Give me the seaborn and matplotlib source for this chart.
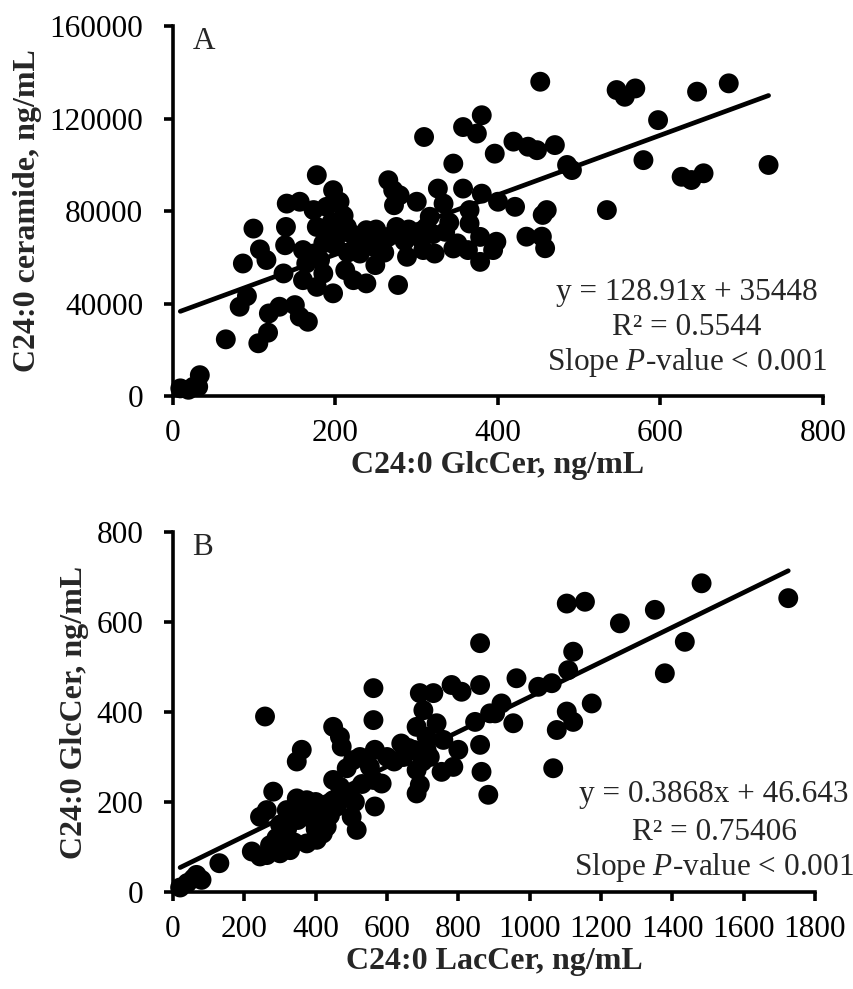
import matplotlib
matplotlib.use("Agg")
import matplotlib.pyplot as plt
import seaborn as sns
import pandas as pd
import numpy as np

# ---------------- Panel A data: C24:0 GlcCer (x) vs C24:0 ceramide (y) ----------------
a_glccer = [9, 19, 25, 31, 33, 65, 105, 117, 82, 91, 118, 131, 150, 156, 166,
            86, 99, 107, 115, 136, 139, 138, 140, 156, 173, 177, 197, 205, 189, 177,
            189, 160, 164, 181, 160, 177, 197, 185, 173, 205, 214, 212, 222, 238, 230,
            226, 238, 249, 247, 265, 265, 271, 279, 272, 277, 275, 288, 296, 300, 308,
            312, 309, 322, 316, 326, 333, 345, 345, 357, 374, 380, 357, 380, 365, 365,
            378, 363, 378, 394, 396, 400, 452, 419, 437, 448, 470, 491, 485, 546, 556,
            569, 597, 645, 684, 733, 579, 626, 638, 653, 534, 421, 460, 455, 435, 454,
            458, 398,
            195, 200, 215, 220, 235, 245, 255, 260, 285, 290, 305, 320, 335, 340, 350,
            185, 250, 210]
a_ceramide = [3300, 2700, 4000, 4000, 9000, 24500, 22800, 27400, 38600, 43200, 35700, 38600, 39300, 34300, 32100,
              57300, 72400, 63400, 58800, 53000, 73100, 65200, 83200, 84000, 80400, 95500, 89000, 84000, 81800, 73100,
              68800, 63100, 57300, 58800, 50100, 47200, 44400, 53000, 61600, 70300, 73100, 54400, 50100, 48700, 61600,
              67400, 71700, 56600, 64500, 68800, 93300, 89000, 86800, 82500, 48000, 73100, 60200, 70300, 84000, 63100,
              73100, 112000, 61600, 77500, 89700, 83200, 100500, 63800, 116300, 113500, 121400, 89700, 87500, 80400, 74600,
              68800, 63100, 58000, 63100, 104800, 84000, 135900, 110000, 107800, 106300, 108500, 97700, 99900, 132300, 129400,
              133000, 119300, 131600, 135200, 99900, 102000, 94800, 93400, 96300, 80400, 81800, 80400, 78300, 68900, 68900,
              63900, 66700,
              75000, 65000, 62000, 70000, 66000, 70000, 68000, 62000, 67000, 72000, 68000, 70000, 71000, 75000, 66000,
              66000, 72000, 78000]
a_slope, a_intercept = 128.91, 35448
a_xticks = [0, 200, 400, 600, 800]
a_yticks = [0, 40000, 80000, 120000, 160000]
a_text = ["y = 128.91x + 35448", "R² = 0.5544", "Slope $P$-value < 0.001"]

# ---------------- Panel B data: C24:0 LacCer (x) vs C24:0 GlcCer (y) ----------------
b_laccer = [20, 40, 57, 66, 80, 130, 221, 244, 263, 300, 328, 272, 244, 263, 281,
            258, 347, 361, 319, 347, 375, 337, 375, 403, 393, 431, 421, 449, 449, 468,
            449, 468, 473, 487, 496, 501, 515, 505, 524, 562, 562, 566, 552, 562, 585,
            566, 646, 674, 683, 692, 730, 702, 739, 711, 683, 692, 683, 711, 758, 753,
            786, 800, 781, 809, 861, 861, 847, 861, 865, 884, 889, 903, 921, 954, 963,
            1024, 1062, 1104, 1155, 1122, 1108, 1104, 1122, 1076, 1174, 1066, 1253, 1351, 1435, 1379,
            1482, 1725,
            300, 320, 350, 380, 400, 420, 440, 460, 480, 510, 530, 290, 340,
            400, 620, 600, 640, 700, 720, 660]
b_glccer = [10, 20, 30, 38, 27, 64, 90, 79, 82, 86, 93, 104, 167, 182, 223,
            390, 290, 316, 182, 208, 204, 175, 108, 116, 160, 145, 182, 204, 249, 234,
            367, 345, 323, 275, 219, 167, 138, 293, 300, 453, 382, 316, 278, 249, 241,
            190, 300, 316, 367, 442, 442, 404, 375, 345, 271, 238, 219, 316, 338, 267,
            278, 316, 460, 445, 553, 460, 378, 327, 267, 216, 397, 397, 419, 375, 475,
            456, 464, 641, 645, 534, 493, 401, 378, 360, 419, 275, 597, 627, 556, 486,
            686, 653,
            150, 140, 160, 190, 200, 130, 170, 190, 210, 200, 240, 120, 110,
            140, 290, 300, 330, 290, 300, 320]
b_slope, b_intercept = 0.3868, 46.643
b_xticks = [0, 200, 400, 600, 800, 1000, 1200, 1400, 1600, 1800]
b_yticks = [0, 200, 400, 600, 800]
b_text = ["y = 0.3868x + 46.643", "R² = 0.75406", "Slope $P$-value < 0.001"]

# ---------------- styling ----------------
sns.set_theme(style="ticks")
plt.rcParams["font.family"] = ["Liberation Serif", "DejaVu Serif"]
plt.rcParams["mathtext.fontset"] = "custom"
plt.rcParams["mathtext.rm"] = "Liberation Serif"
plt.rcParams["mathtext.it"] = "Liberation Serif:italic"

FS_TICK = 22.5
FS_LABEL = 23
FS_TEXT = 22.5
W, H = 854, 989
fig = plt.figure(figsize=(W / 100, H / 100), dpi=100)
axA = fig.add_axes([173 / W, 1 - 396 / H, 650 / W, 370 / H])
axB = fig.add_axes([173 / W, 1 - 892 / H, 642 / W, 360 / H])


def draw(ax, x, y, slope, intercept, xticks, yticks, xlabel, ylabel, letter, texts, tx, tys):
    df = pd.DataFrame({"x": x, "y": y})
    sns.scatterplot(data=df, x="x", y="y", ax=ax, color="black", s=205,
                    edgecolor="none", linewidth=0, clip_on=False, zorder=3)
    xs = np.array([min(x), max(x)], dtype=float)
    line = pd.DataFrame({"x": xs, "y": slope * xs + intercept})
    sns.lineplot(data=line, x="x", y="y", ax=ax, color="black", linewidth=3.4,
                 zorder=4, solid_capstyle="round")
    ax.set_xlim(xticks[0], xticks[-1])
    ax.set_ylim(yticks[0], yticks[-1])
    ax.set_xticks(xticks)
    ax.set_yticks(yticks)
    ax.set_xticklabels([str(t) for t in xticks])
    ax.set_yticklabels([str(t) for t in yticks])
    for side in ["top", "right"]:
        ax.spines[side].set_visible(False)
    for side in ["left", "bottom"]:
        ax.spines[side].set_linewidth(2.6)
        ax.spines[side].set_color("black")
        ax.spines[side].set_zorder(5)
    ax.tick_params(axis="both", direction="out", length=6.5, width=2.6,
                   colors="black", labelsize=FS_TICK)
    ax.tick_params(axis="x", pad=10)
    ax.tick_params(axis="y", pad=15)
    ax.set_xlabel(xlabel, fontsize=FS_LABEL, fontweight="bold", labelpad=2)
    ax.set_ylabel(ylabel, fontsize=FS_LABEL, fontweight="bold", labelpad=5)
    ax.text(0.03, 0.997, letter, transform=ax.transAxes, fontsize=FS_TEXT,
            ha="left", va="top")
    for t, ty in zip(texts, tys):
        ax.text(tx, ty, t, transform=ax.transAxes, fontsize=FS_TEXT,
                ha="center", va="baseline", clip_on=False)
    ax.set_facecolor("white")


draw(axA, a_glccer, a_ceramide, a_slope, a_intercept, a_xticks, a_yticks,
     "C24:0 GlcCer, ng/mL", "C24:0 ceramide, ng/mL", "A", a_text,
     0.791, [0.259, 0.165, 0.070])
draw(axB, b_laccer, b_glccer, b_slope, b_intercept, b_xticks, b_yticks,
     "C24:0 LacCer, ng/mL", "C24:0 GlcCer, ng/mL", "B", b_text,
     0.843, [0.25, 0.144, 0.047])

fig.savefig("out.png", dpi=100, facecolor="white")
